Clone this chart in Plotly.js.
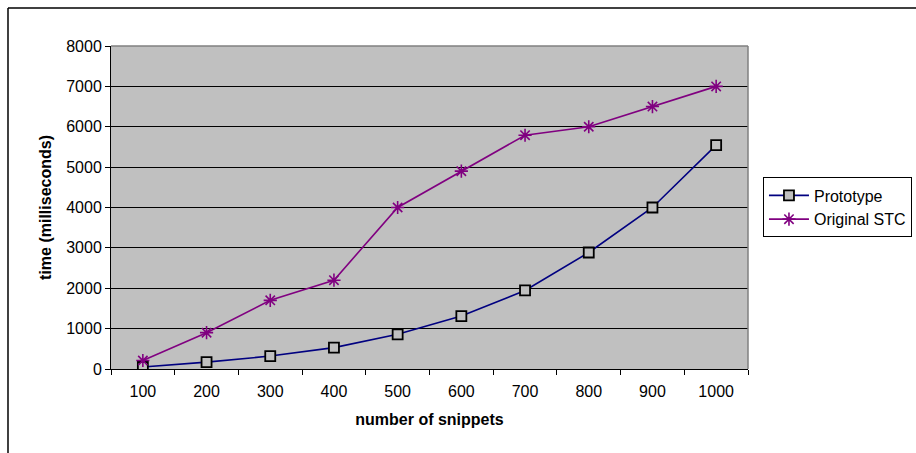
<!DOCTYPE html>
<html>
<head>
<meta charset="utf-8">
<script src="https://cdn.plot.ly/plotly-3.0.1.min.js"></script>
<style>
  html, body { margin: 0; padding: 0; background: #ffffff; }
  #chart { width: 916px; height: 453px; }
</style>
</head>
<body>
<div id="chart"></div>
<script>
// Number of snippets processed (category axis)
const snippets = ["100", "200", "300", "400", "500", "600", "700", "800", "900", "1000"];

// Processing time in milliseconds
const prototypeTimes = [50, 170, 320, 530, 860, 1310, 1945, 2885, 4000, 5545];
const originalStcTimes = [210, 900, 1700, 2200, 4000, 4900, 5790, 6000, 6500, 7000];

const seriesNames = ["Prototype", "Original STC"];

const traces = [
  {
    x: snippets,
    y: prototypeTimes,
    name: seriesNames[0],
    type: "scatter",
    mode: "lines+markers",
    line: { color: "#000080", width: 1.6 },
    marker: {
      symbol: "square",
      size: 10,
      color: "#c0c0c0",
      line: { color: "#000000", width: 1.8 }
    }
  },
  {
    x: snippets,
    y: originalStcTimes,
    name: seriesNames[1],
    type: "scatter",
    mode: "lines+markers",
    line: { color: "#800080", width: 1.6 },
    marker: {
      symbol: "asterisk-open",
      size: 11,
      color: "#800080",
      line: { color: "#800080", width: 1.6 }
    }
  }
];

const fam = "Liberation Sans, Arial, sans-serif";
const font = { family: fam, size: 16, color: "#000000" };

const layout = {
  width: 916,
  height: 453,
  margin: { l: 111, r: 168, t: 46, b: 84, autoexpand: false },
  paper_bgcolor: "#ffffff",
  plot_bgcolor: "#c0c0c0",
  font: font,
  showlegend: true,
  legend: {
    x: 1.0235,
    y: 0.593,
    xanchor: "left",
    yanchor: "top",
    bgcolor: "#ffffff",
    bordercolor: "#000000",
    borderwidth: 1,
    font: { family: fam, size: 16, color: "#000000" },
    tracegroupgap: 0,
    itemwidth: 40
  },
  xaxis: {
    type: "category",
    range: [-0.5, 9.5],
    tickson: "boundaries",
    ticks: "outside",
    ticklen: 5,
    tickcolor: "#000000",
    tickwidth: 1,
    ticklabelstandoff: 8,
    showline: true,
    linecolor: "#000000",
    linewidth: 1,
    showgrid: false,
    zeroline: false,
    fixedrange: true,
    automargin: false,
    tickfont: { family: fam, size: 16, color: "#000000" },
    title: {
      text: "<b>number of snippets</b>",
      font: { family: fam, size: 16, color: "#000000" },
      standoff: 14
    }
  },
  yaxis: {
    range: [0, 8000],
    tickvals: [0, 1000, 2000, 3000, 4000, 5000, 6000, 7000, 8000],
    ticktext: ["0", "1000", "2000", "3000", "4000", "5000", "6000", "7000", "8000"],
    ticks: "outside",
    ticklen: 5,
    tickcolor: "#000000",
    tickwidth: 1,
    showline: true,
    linecolor: "#000000",
    linewidth: 1,
    showgrid: true,
    gridcolor: "#000000",
    gridwidth: 1,
    zeroline: false,
    fixedrange: true,
    automargin: false,
    tickfont: { family: fam, size: 16, color: "#000000" },
    title: {
      text: "<b>time (milliseconds)</b>",
      font: { family: fam, size: 16, color: "#000000" },
      standoff: 10
    }
  },
  shapes: [
    // gray frame along the top and right edges of the plotting area
    { type: "line", xref: "paper", yref: "paper", x0: 0, x1: 1, y0: 1, y1: 1,
      line: { color: "#808080", width: 1.5 } },
    { type: "line", xref: "paper", yref: "paper", x0: 1, x1: 1, y0: 0, y1: 1,
      line: { color: "#808080", width: 1.5 } },
    // outer chart border (top and left)
    { type: "line", xref: "paper", yref: "paper", x0: -0.1617, x1: 1.27, y0: 1.1176, y1: 1.1176,
      line: { color: "#000000", width: 1.5 } },
    { type: "line", xref: "paper", yref: "paper", x0: -0.1617, x1: -0.1617, y0: 1.1176, y1: -0.27,
      line: { color: "#000000", width: 1.5 } }
  ]
};

Plotly.newPlot("chart", traces, layout, { displayModeBar: false, staticPlot: true });
</script>
</body>
</html>
